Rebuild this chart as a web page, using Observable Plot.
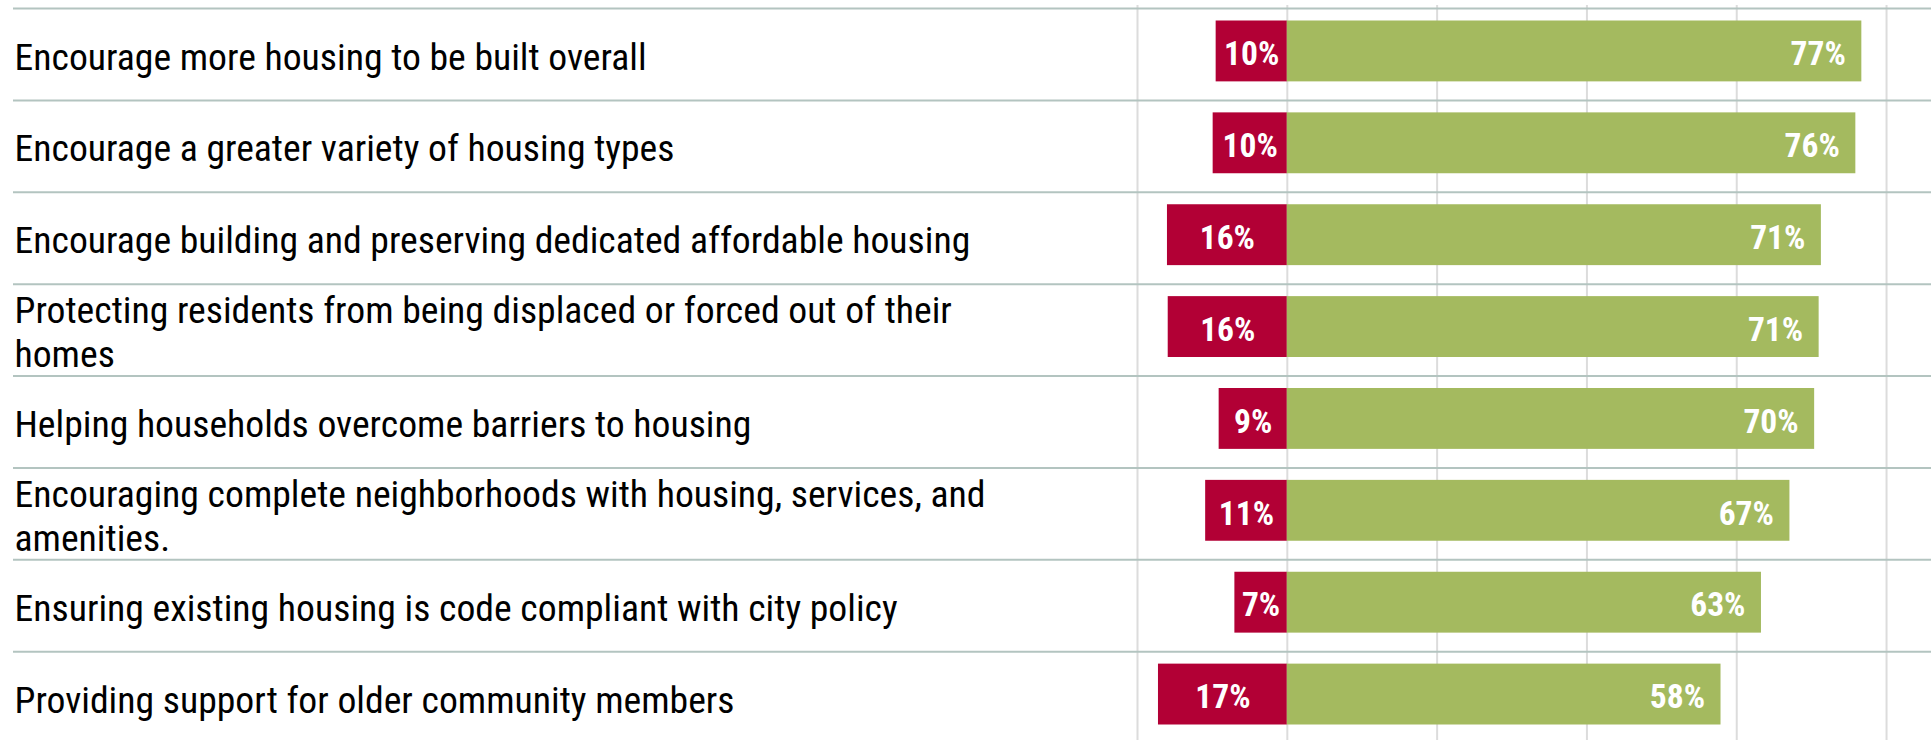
<!DOCTYPE html>
<html>
<head>
<meta charset="utf-8">
<script src="https://cdn.jsdelivr.net/npm/d3@7"></script>
<script src="https://cdn.jsdelivr.net/npm/@observablehq/plot@0.6"></script>
<style>
  html, body { margin: 0; padding: 0; background: #ffffff; }
  #chart { width: 1931px; height: 743px; }
  #chart svg, #chart svg text { font-family: Roboto, 'Liberation Sans', sans-serif; font-stretch: 75%; }
</style>
</head>
<body>
<div id="chart"></div>
<script>
const categories = [
  "Encourage more housing to be built overall",
  "Encourage a greater variety of housing types",
  "Encourage building and preserving dedicated affordable housing",
  "Protecting residents from being displaced or forced out of their\nhomes",
  "Helping households overcome barriers to housing",
  "Encouraging complete neighborhoods with housing, services, and\namenities.",
  "Ensuring existing housing is code compliant with city policy",
  "Providing support for older community members"
];
const oppose = [9.5, 9.9, 16.0, 15.9, 9.1, 10.9, 7.0, 17.2];
const support = [76.7, 75.9, 71.3, 71.0, 70.4, 67.1, 63.3, 57.9];
const gridTicks = [-20, 0, 20, 40, 60, 80];

const rows = categories.map((label, i) => ({label, row: i, oppose: oppose[i], support: support[i]}));

const chart = Plot.plot({
  width: 1931,
  height: 743,
  marginLeft: 1137,
  marginRight: 0,
  marginTop: 5,
  marginBottom: 3,
  style: {background: "#ffffff", fontFamily: "Roboto, 'Liberation Sans', sans-serif"},
  x: {domain: [-20, 86], axis: null},
  y: {domain: [0, 8], reverse: true, axis: null},
  marks: [
    Plot.ruleX(gridTicks, {stroke: "#dcdcdc", strokeWidth: 2}),
    Plot.ruleY(rows, {y: "row", stroke: "#b3c4c0", strokeWidth: 2, insetLeft: -1124, dy: 3}),
    Plot.rect(rows, {x1: d => -d.oppose, x2: 0, y1: "row", y2: d => d.row + 1, fill: "#b20035", insetTop: 15.5, insetBottom: 15.5}),
    Plot.rect(rows, {x1: 0, x2: "support", y1: "row", y2: d => d.row + 1, fill: "#a4ba5f", insetTop: 15.5, insetBottom: 15.5}),
    Plot.text(rows, {x: d => -d.oppose / 2, y: d => d.row + 0.5, text: d => Math.round(d.oppose) + "%", fill: "#ffffff", fontWeight: "bold", fontSize: 33.5, textAnchor: "middle", dy: 3}),
    Plot.text(rows, {x: "support", y: d => d.row + 0.5, text: d => Math.round(d.support) + "%", fill: "#ffffff", fontWeight: "bold", fontSize: 33.5, textAnchor: "end", dx: -16, dy: 3}),
    Plot.text(rows, {y: d => d.row + 0.5, text: "label", frameAnchor: "left", textAnchor: "start", dx: -1123, dy: 4, fontSize: 37.7, lineHeight: 1.17, fill: "#000000"})
  ]
});
document.getElementById("chart").appendChild(chart);
</script>
</body>
</html>
